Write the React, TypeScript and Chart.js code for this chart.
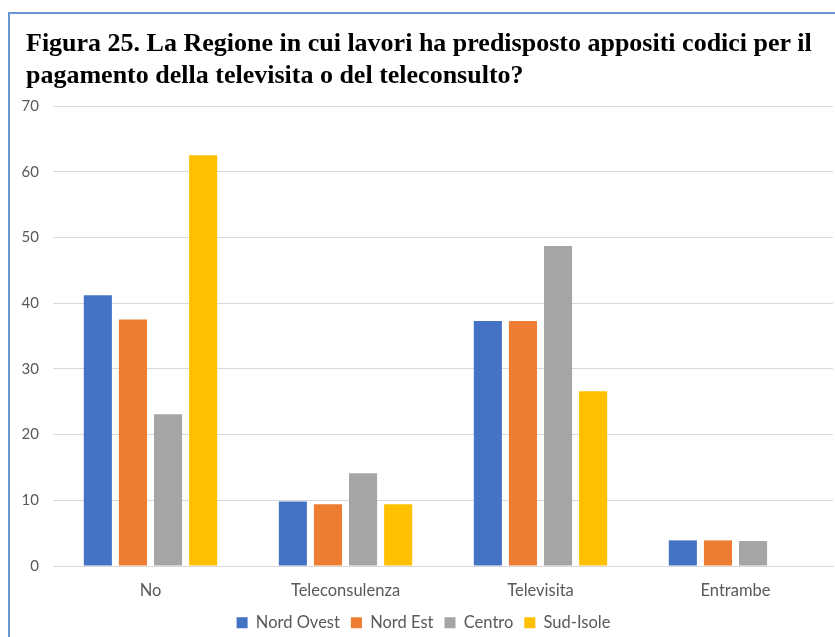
import React, { useEffect, useRef } from "react";
import { Chart, registerables } from "chart.js";

Chart.register(...registerables);

const titleLines = [
  "Figura 25. La Regione in cui lavori ha predisposto appositi codici per il",
  "pagamento della televisita o del teleconsulto?",
];
const categories = ["No", "Teleconsulenza", "Televisita", "Entrambe"];
const seriesNames = ["Nord Ovest", "Nord Est", "Centro", "Sud-Isole"];
const nordOvest = [41.2, 9.8, 37.3, 3.9];
const nordEst = [37.5, 9.4, 37.3, 3.9];
const centro = [23.1, 14.1, 48.7, 3.8];
const sudIsole = [62.5, 9.4, 26.6, 0];
const seriesColors = ["#4472C4", "#ED7D31", "#A5A5A5", "#FFC000"];
const yMax = 70;
const yStep = 10;

const sans = "Lato, 'Open Sans', sans-serif";

export default function App() {
  const ref = useRef<HTMLCanvasElement | null>(null);
  useEffect(() => {
    if (!ref.current) return;
    const values = [nordOvest, nordEst, centro, sudIsole];
    const chart = new Chart(ref.current, {
      type: "bar",
      data: {
        labels: categories,
        datasets: seriesNames.map((name, i) => ({
          label: name,
          data: values[i],
          backgroundColor: seriesColors[i],
          borderWidth: 0,
          barPercentage: 0.8,
          categoryPercentage: 0.72,
        })),
      },
      options: {
        animation: false,
        responsive: false,
        maintainAspectRatio: false,
        layout: { padding: { left: 4, right: 2, top: 92, bottom: -4 } },
        plugins: {
          tooltip: { enabled: false },
          title: { display: false },
          legend: {
            position: "bottom",
            labels: {
              boxWidth: 11,
              boxHeight: 11,
              padding: 11,
              color: "#595959",
              font: { family: sans, size: 16.5 },
            },
          },
        },
        scales: {
          x: {
            grid: { display: false, drawTicks: false },
            border: { display: true, color: "#d9d9d9", width: 1 },
            ticks: {
              color: "#595959",
              padding: 15,
              font: { family: sans, size: 16.5 },
            },
            afterFit: (s: any) => {
              s.height = 37.5;
            },
          },
          y: {
            min: 0,
            max: yMax,
            ticks: {
              stepSize: yStep,
              color: "#595959",
              padding: 14,
              font: { family: sans, size: 15 },
            },
            grid: { color: "#d9d9d9", lineWidth: 1, drawTicks: false },
            border: { display: false },
            afterFit: (s: any) => {
              s.width = 39;
            },
          },
        },
      },
    });
    return () => chart.destroy();
  }, []);
  return (
    <div
      style={{
        position: "absolute",
        left: 8,
        top: 12,
        width: 835,
        height: 640,
        borderLeft: "2px solid #6b96d4",
        borderTop: "2px solid #6b96d4",
        background: "#fff",
      }}
    >
      <div
        style={{
          position: "absolute",
          left: 16,
          top: 13,
          font: "bold 26px 'Liberation Serif', serif",
          lineHeight: "32px",
          color: "#000",
          whiteSpace: "nowrap",
        }}
      >
        {titleLines.map((t, i) => (
          <div key={i}>{t}</div>
        ))}
      </div>
      <canvas ref={ref} width={825} height={623} style={{ display: "block" }} />
    </div>
  );
}
